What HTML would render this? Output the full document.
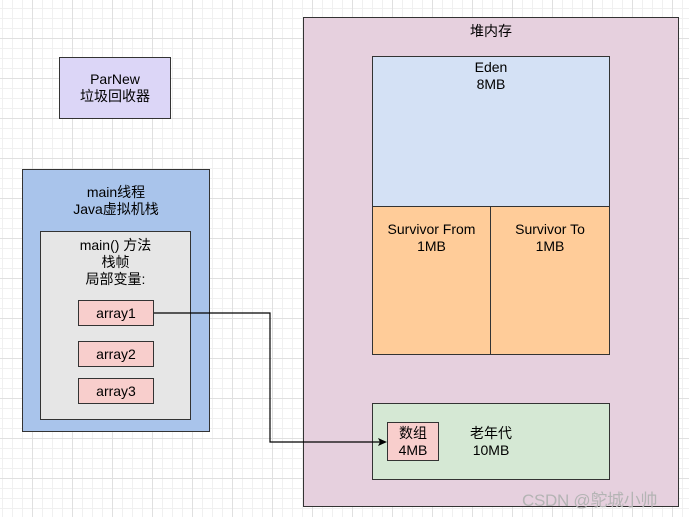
<!DOCTYPE html>
<html><head><meta charset="utf-8"><style>
body{margin:0;width:689px;height:517px;overflow:hidden;background-color:#fff;
background-image:linear-gradient(#e0e0e0 1px,transparent 1px),linear-gradient(90deg,#e0e0e0 1px,transparent 1px),linear-gradient(#f0f0f0 1px,transparent 1px),linear-gradient(90deg,#f0f0f0 1px,transparent 1px);
background-size:40px 40px,40px 40px,10px 10px,10px 10px;background-position:-8px -2px;
font-family:"Liberation Sans","Noto Sans CJK SC",sans-serif;font-size:14px;color:#000;position:relative}
.b{position:absolute;box-sizing:border-box;border:1.5px solid #333;text-align:center;line-height:17px}
</style></head><body>
<div class="b" style="left:59px;top:57px;width:112px;height:62px;background:#dcd6f7;padding-top:13px">ParNew<br>垃圾回收器</div>
<div class="b" style="left:22px;top:169px;width:188px;height:263px;background:#a9c4eb;padding-top:14px">main线程<br>Java虚拟机栈</div>
<div class="b" style="left:40px;top:231px;width:151px;height:189px;background:#e6e6e6;padding-top:5px">main() 方法<br>栈帧<br>局部变量:</div>
<div class="b" style="left:78px;top:300px;width:76px;height:26px;background:#f8cecc;padding-top:4px">array1</div>
<div class="b" style="left:78px;top:341px;width:76px;height:26px;background:#f8cecc;padding-top:4px">array2</div>
<div class="b" style="left:78px;top:378px;width:76px;height:26px;background:#f8cecc;padding-top:4px">array3</div>
<div class="b" style="left:303px;top:17px;width:376px;height:490px;background:#e6d0de;padding-top:5px">堆内存</div>
<div class="b" style="left:372px;top:56px;width:238px;height:151px;background:#d4e1f5;padding-top:2px">Eden<br>8MB</div>
<div class="b" style="left:372px;top:206px;width:119px;height:149px;background:#ffcc99;padding-top:14px">Survivor From<br>1MB</div>
<div class="b" style="left:490px;top:206px;width:120px;height:149px;background:#ffcc99;padding-top:14px">Survivor To<br>1MB</div>
<div class="b" style="left:372px;top:403px;width:238px;height:77px;background:#d5e8d4;padding-top:21px;padding-left:0"><span style="position:absolute;left:88px;top:21px;width:60px">老年代<br>10MB</span></div>
<div class="b" style="left:387px;top:422px;width:52px;height:39px;background:#f8cecc;padding-top:2px">数组<br>4MB</div>
<svg style="position:absolute;left:0;top:0" width="689" height="517">
<polyline points="154,313 270,313 270,442 380,442" fill="none" stroke="#000" stroke-width="1.2"/>
<polygon points="387,442 378,438 380,442 378,446" fill="#000"/>
</svg>
<div style="position:absolute;left:522px;top:486px;color:#b4b4b4;font-size:17px;letter-spacing:-0.3px">CSDN @鸵城小帅</div>
</body></html>
